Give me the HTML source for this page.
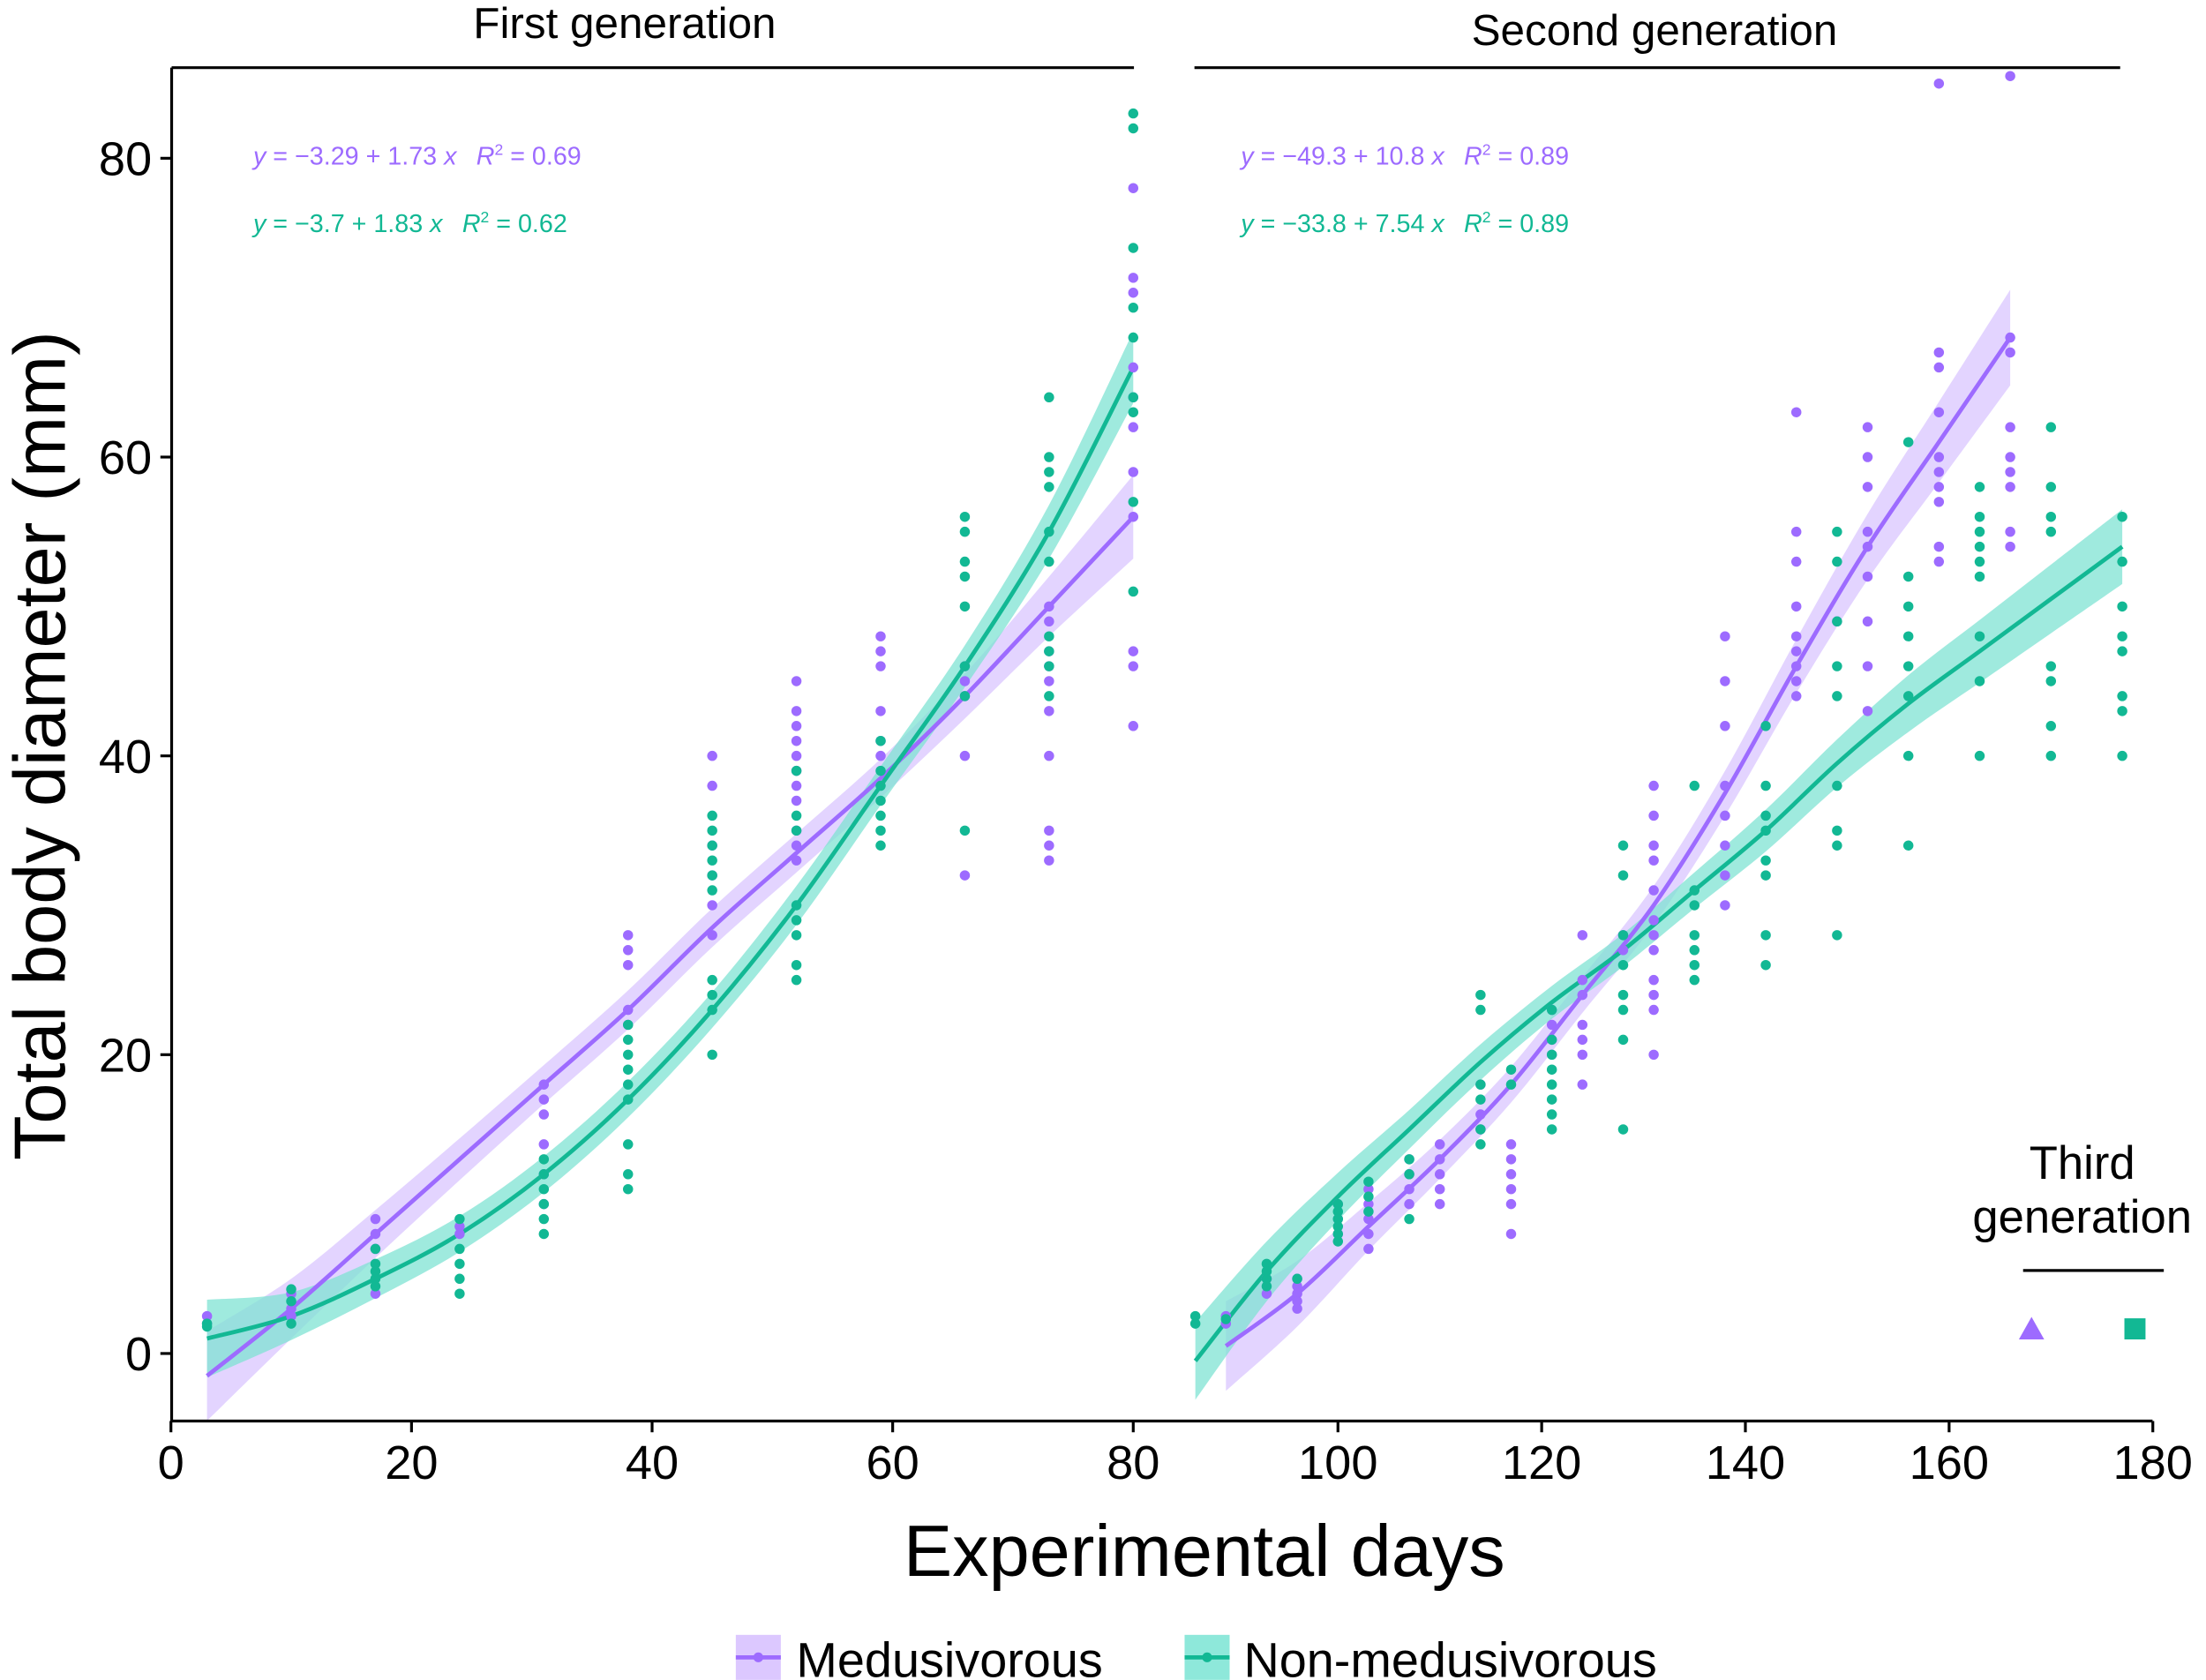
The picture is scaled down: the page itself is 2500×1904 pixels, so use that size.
<!DOCTYPE html>
<html><head><meta charset="utf-8"><style>
html,body{margin:0;padding:0;background:#fff}
svg{display:block}
text{font-family:"Liberation Sans",sans-serif}
</style></head><body>
<svg id="chart" width="2500" height="1904" viewBox="0 0 1568 1194" xmlns="http://www.w3.org/2000/svg">
<g id="bands"></g>
<g id="lines"></g>
<g id="points"></g>
<g id="axes">
<line x1="122" y1="48" x2="122" y2="1010" stroke="#000" stroke-width="2"/>
<line x1="122" y1="1010" x2="1530" y2="1010" stroke="#000" stroke-width="2"/>
</g>
<text x="444" y="27" font-size="31" text-anchor="middle">First generation</text>
<line x1="122" y1="48" x2="806" y2="48" stroke="#000" stroke-width="2"/>
<text x="1176" y="32" font-size="31" text-anchor="middle">Second generation</text>
<line x1="849" y1="48" x2="1507" y2="48" stroke="#000" stroke-width="2"/>
<g font-size="18">
<text x="180" y="117" fill="#9d6bff"><tspan font-style="italic">y</tspan> = −3.29 + 1.73 <tspan font-style="italic">x</tspan><tspan dx="14" font-style="italic">R</tspan><tspan dy="-7" font-size="11">2</tspan><tspan dy="7"> = 0.69</tspan></text>
<text x="180" y="165" fill="#12b894"><tspan font-style="italic">y</tspan> = −3.7 + 1.83 <tspan font-style="italic">x</tspan><tspan dx="14" font-style="italic">R</tspan><tspan dy="-7" font-size="11">2</tspan><tspan dy="7"> = 0.62</tspan></text>
<text x="882" y="117" fill="#9d6bff"><tspan font-style="italic">y</tspan> = −49.3 + 10.8 <tspan font-style="italic">x</tspan><tspan dx="14" font-style="italic">R</tspan><tspan dy="-7" font-size="11">2</tspan><tspan dy="7"> = 0.89</tspan></text>
<text x="882" y="165" fill="#12b894"><tspan font-style="italic">y</tspan> = −33.8 + 7.54 <tspan font-style="italic">x</tspan><tspan dx="14" font-style="italic">R</tspan><tspan dy="-7" font-size="11">2</tspan><tspan dy="7"> = 0.89</tspan></text>
</g>
<text transform="translate(46,530) rotate(-90)" font-size="52" text-anchor="middle">Total body diameter (mm)</text>
<text x="856" y="1120" font-size="52" text-anchor="middle">Experimental days</text>
<g>
<text x="1480" y="838" font-size="33" text-anchor="middle">Third</text>
<text x="1480" y="876" font-size="33" text-anchor="middle">generation</text>
<line x1="1438" y1="903" x2="1538" y2="903" stroke="#000" stroke-width="2"/>
<polygon points="1435,952 1444,936 1453,952" fill="#9d6bff"/>
<rect x="1510" y="937" width="15" height="15" fill="#12b894"/>
</g>
<g>
<rect x="523" y="1162" width="32" height="32" fill="#dcc8ff"/>
<line x1="523" y1="1178" x2="555" y2="1178" stroke="#9d6bff" stroke-width="3"/>
<circle cx="539" cy="1178" r="3.5" fill="#9d6bff"/>
<text x="566" y="1192" font-size="35">Medusivorous</text>
<rect x="842" y="1162" width="32" height="32" fill="#8ee8da"/>
<line x1="842" y1="1178" x2="874" y2="1178" stroke="#12b894" stroke-width="3"/>
<circle cx="858" cy="1178" r="3.5" fill="#12b894"/>
<text x="884" y="1192" font-size="35">Non-medusivorous</text>
</g>
</svg>
<script>
const xTicks=[0,20,40,60,80,100,120,140,160,180];
const yTicks=[0,20,40,60,80];
const purpleG1=[[3,2.5,2],[10,4,3,2.5],[17,9,8,7,4],[24,8.5,8],[31,18,17,16,14,12,10],[38,28,27,26,23,22],[45,40,38,34,32,30,28],[52,45,43,42,41,40,39,38,37,35,34,33],[59,48,47,46,43,41,40],[66,46,45,44,40,32],[73,50,49,47,46,45,43,40,35,34,33],[80,78,72,71,66,64,62,59,56,47,46,42]];
const greenG1=[[3,2,1.8],[10,4.3,3.5,2],[17,7,6,5.5,5,4.5],[24,9,7,6,5,4],[31,13,12,11,10,9,8],[38,22,21,20,19,18,17,14,12,11],[45,36,35,34,33,32,31,25,24,23,20],[52,39,36,35,30,29,28,26,25],[59,41,39,38,37,36,35,34],[66,56,55,53,52,50,46,44,35],[73,64,60,59,58,55,53,48,47,46,44],[80,83,82,74,70,68,64,63,57,51]];
const purpleG2=[[89,2.5,2],[93,5,4],[96,5,4.5,4,3.5,3],[100,10,9,8],[103,11,10,9,8,7],[107,13,12,11,10],[110,14,13,12,11,10],[114,18,16,15],[117,14,13,12,11,10,8],[121,23,22,21,20],[124,28,25,24,22,21,20,18],[128,28,27],[131,38,36,34,33,31,29,28,27,25,24,23,20],[138,48,45,42,38,36,34,32,30],[145,63,55,53,50,48,47,46,45,44],[149,49],[152,62,60,58,55,54,52,49,46,43],[159,85,67,66,63,60,59,58,57,54,53],[166,85.5,68,67,62,60,59,58,55,54]];
const greenG2=[[86,2.5,2],[89,2.3],[93,6,5.5,5,4.5],[96,5],[100,10,9.5,9,8.5,8,7.5],[103,11.5,10.5,9.5],[107,13,12,9],[114,24,23,18,17,15,14],[117,19,18],[121,23,21,20,19,18,17,16,15],[128,34,32,28,26,24,23,21,15],[135,38,31,30,28,27,26,25],[142,42,38,36,35,33,32,28,26],[149,55,53,49,46,44,38,35,34,28],[156,61,52,50,48,46,44,40,34],[163,58,56,55,54,53,52,48,45,40],[170,62,58,56,55,46,45,42,40],[177,56,53,50,48,47,44,43,40]];
const fitPurpleG1=[[3,-1.5,3],[10,3,2],[17,8,1.6],[24,13,1.4],[31,18,1.3],[38,23,1.3],[45,28.5,1.3],[52,33.5,1.3],[59,38.5,1.3],[66,44,1.5],[73,50,2],[80,56,2.8]];
const fitGreenG1=[[3,1,2.6],[10,2.5,1.6],[17,5,1.3],[24,8,1.2],[31,12,1.2],[38,17,1.2],[45,23,1.2],[52,30,1.3],[59,38,1.3],[66,46,1.4],[73,55,1.8],[80,66,2.4]];
const fitPurpleG2=[[89,0.5,3],[96,4,2.2],[103,8.5,1.6],[110,13,1.3],[117,18,1.2],[124,24,1.2],[131,30,1.3],[138,37.5,1.5],[145,46,1.8],[152,54,2.2],[159,61,2.7],[166,68,3.2]];
const fitGreenG2=[[86,-0.5,2.6],[93,5.5,2],[100,10.5,1.6],[107,15,1.3],[114,19.5,1.2],[121,23.5,1.1],[128,27,1.1],[135,31,1.2],[142,35,1.4],[149,39.5,1.6],[156,43.5,1.9],[163,47,2.1],[170,50.5,2.3],[177,54,2.5]];

const NS='http://www.w3.org/2000/svg';
const PURPLE='#9d6bff',GREEN='#12b894';
function xs(d){return d<=83?121.5+d*8.55:951+(d-100)*7.24;}
function ys(v){return 962-v*10.62;}
function mk(tag,parent,attrs){const e=document.createElementNS(NS,tag);for(const k in attrs)e.setAttribute(k,attrs[k]);parent.appendChild(e);return e;}
function smooth(P){
 let d='M'+P[0][0]+','+P[0][1];
 for(let i=0;i<P.length-1;i++){
  const p0=P[Math.max(i-1,0)],p1=P[i],p2=P[i+1],p3=P[Math.min(i+2,P.length-1)];
  const c1=[p1[0]+(p2[0]-p0[0])/6,p1[1]+(p2[1]-p0[1])/6];
  const c2=[p2[0]-(p3[0]-p1[0])/6,p2[1]-(p3[1]-p1[1])/6];
  d+=' C'+c1[0]+','+c1[1]+' '+c2[0]+','+c2[1]+' '+p2[0]+','+p2[1];
 }
 return d;
}
const axes=document.getElementById('axes');
xTicks.forEach(t=>{
 const l=mk('line',axes,{x1:xs(t),x2:xs(t),y1:1010,y2:1018,stroke:'#000','stroke-width':2});
 
 
 const tx=mk('text',axes,{x:xs(t),y:1051,'font-size':34,'text-anchor':'middle'});
 tx.textContent=t;
 
 
});
yTicks.forEach(t=>{
 const l=mk('line',axes,{x1:114,x2:122,y1:ys(t),y2:ys(t),stroke:'#000','stroke-width':2});
 
 
 const tx=mk('text',axes,{x:108,y:ys(t)+12,'font-size':34,'text-anchor':'end'});
 tx.textContent=t;
 
 
});
function band(fit,fill,name){
 const up=fit.map(p=>[xs(p[0]),ys(p[1]+p[2])]);
 const dn=fit.slice().reverse().map(p=>[xs(p[0]),ys(p[1]-p[2])]);
 const d=smooth(up)+' L'+smooth(dn).slice(1)+' Z';
 const pg=mk('path',document.getElementById('bands'),{d:d,fill:fill,'fill-opacity':0.75});
 
 
}
function line(fit,col,name){
 const pl=mk('path',document.getElementById('lines'),{d:smooth(fit.map(p=>[xs(p[0]),ys(p[1])])),fill:'none',stroke:col,'stroke-width':3});
 
 
}
function pts(data,col,name){
 const g=document.getElementById('points');
 data.forEach(r=>{for(let i=1;i<r.length;i++){
  const c=mk('circle',g,{cx:xs(r[0]),cy:ys(r[i]),r:3.6,fill:col});
  
  
 }});
}
band(fitPurpleG1,'#d9c5ff','band-medusivorous-g1');
band(fitGreenG1,'#7fe3d3','band-non-medusivorous-g1');
band(fitPurpleG2,'#d9c5ff','band-medusivorous-g2');
band(fitGreenG2,'#7fe3d3','band-non-medusivorous-g2');
line(fitPurpleG1,PURPLE,'fit-medusivorous-g1');
line(fitGreenG1,GREEN,'fit-non-medusivorous-g1');
line(fitPurpleG2,PURPLE,'fit-medusivorous-g2');
line(fitGreenG2,GREEN,'fit-non-medusivorous-g2');
pts(purpleG1,PURPLE,'point-medusivorous');
pts(greenG1,GREEN,'point-non-medusivorous');
pts(purpleG2,PURPLE,'point-medusivorous');
pts(greenG2,GREEN,'point-non-medusivorous');
</script>
</body></html>
